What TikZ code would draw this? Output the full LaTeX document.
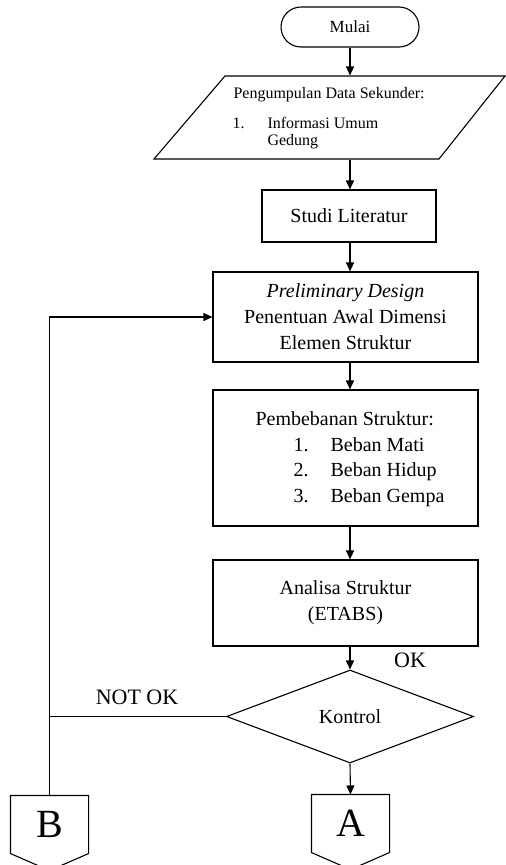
\documentclass[tikz,border=0pt]{standalone}
\usepackage{fontspec}
\setmainfont{Liberation Serif}
\usetikzlibrary{arrows.meta,shapes.misc,shapes.geometric}
\begin{document}
\begin{tikzpicture}[x=1pt,y=-1pt,
  line width=1.1pt,
  arr/.style={-{Triangle[length=9pt,width=8pt]}},
  box/.style={draw,rectangle,inner sep=0pt,font=\fontsize{20}{26}\selectfont,align=center},
  txt/.style={inner sep=0pt,text height=14pt,text depth=4pt,font=\fontsize{20}{26}\selectfont},
  stxt/.style={inner sep=0pt,text height=11pt,text depth=3.5pt,font=\fontsize{16}{19}\selectfont},
  lbl/.style={inner sep=0pt,font=\fontsize{22}{26}\selectfont},
  conn/.style={inner sep=0pt,minimum width=77pt,minimum height=57pt,font=\fontsize{40}{44}\selectfont},
]
\useasboundingbox (0,0) rectangle (506,865);
\coordinate (ax) at (350,0);

% start
\node[draw,rounded rectangle,minimum width=138pt,minimum height=40pt,inner sep=0pt,
      font=\fontsize{17}{20}\selectfont] (start) at (350,27) {Mulai};

% data (parallelogram)
\node[inner sep=0pt,minimum width=351pt,minimum height=83pt] (data) at (329.5,117.5) {};
\draw (225,76) -- (505,76) -- (439,159) -- (154,159) -- cycle;
\node[stxt,anchor=west] (d1) at (233,95) {Pengumpulan Data Sekunder:};
\node[stxt,anchor=west] (d2) at (232,125) {1.};
\node[stxt,anchor=west] (d3) at (267,125) {Informasi Umum};
\node[stxt,anchor=west] (d4) at (267,142) {Gedung};

% boxes
\node[box,minimum width=174pt,minimum height=52pt] (studi) at (349,216) {Studi Literatur};
\node[box,minimum width=265pt,minimum height=90pt] (prelim) at (345.5,317)
  {\textit{Preliminary Design}\\Penentuan Awal Dimensi\\Elemen Struktur};
\node[box,minimum width=265pt,minimum height=136pt] (pemb) at (345.5,458) {};
\node[txt,anchor=west] (p0) at (255,420) {Pembebanan Struktur:};
\node[txt,anchor=west] (p1n) at (293,446) {1.};
\node[txt,anchor=west] (p1) at (330,446) {Beban Mati};
\node[txt,anchor=west] (p2n) at (293,471) {2.};
\node[txt,anchor=west] (p2) at (330,471) {Beban Hidup};
\node[txt,anchor=west] (p3n) at (293,497) {3.};
\node[txt,anchor=west] (p3) at (330,497) {Beban Gempa};
\node[box,minimum width=265pt,minimum height=86pt] (analisa) at (345.5,603)
  {Analisa Struktur\\(ETABS)};

% decision
\node[draw,diamond,minimum width=247pt,minimum height=93pt,inner sep=0pt,
      font=\fontsize{20}{24}\selectfont] (dia) at (350,716.5) {Kontrol};

% off-page connectors
\node[conn] (B) at (49.5,824.5) {B};
\node[conn] (A) at (350.5,823.5) {A};
\draw (B.north west) -- (B.north east) -- (B.south east) -- ([yshift=-17pt]B.south) -- (B.south west) -- cycle;
\draw (A.north west) -- (A.north east) -- (A.south east) -- ([yshift=-17pt]A.south) -- (A.south west) -- cycle;

% labels
\node[lbl] (ok) at (410,660) {OK};
\node[lbl] (nok) at (137,697) {NOT OK};

% connectors
\draw[arr] (start.south) -- (start.south |- data.north);
\draw[arr] (ax |- data.south) -- (ax |- studi.north);
\draw[arr] (ax |- studi.south) -- (ax |- prelim.north);
\draw[arr] (ax |- prelim.south) -- (ax |- pemb.north);
\draw[arr] (ax |- pemb.south) -- (ax |- analisa.north);
\draw[arr] (ax |- analisa.south) -- (dia.north);
\draw[arr] (dia.south) -- (A.north);
\coordinate (j) at (B.north |- dia.west);
\draw[arr] (dia.west) -- (j) |- (prelim.west);
\draw (j) -- (B.north);
\end{tikzpicture}
\end{document}
